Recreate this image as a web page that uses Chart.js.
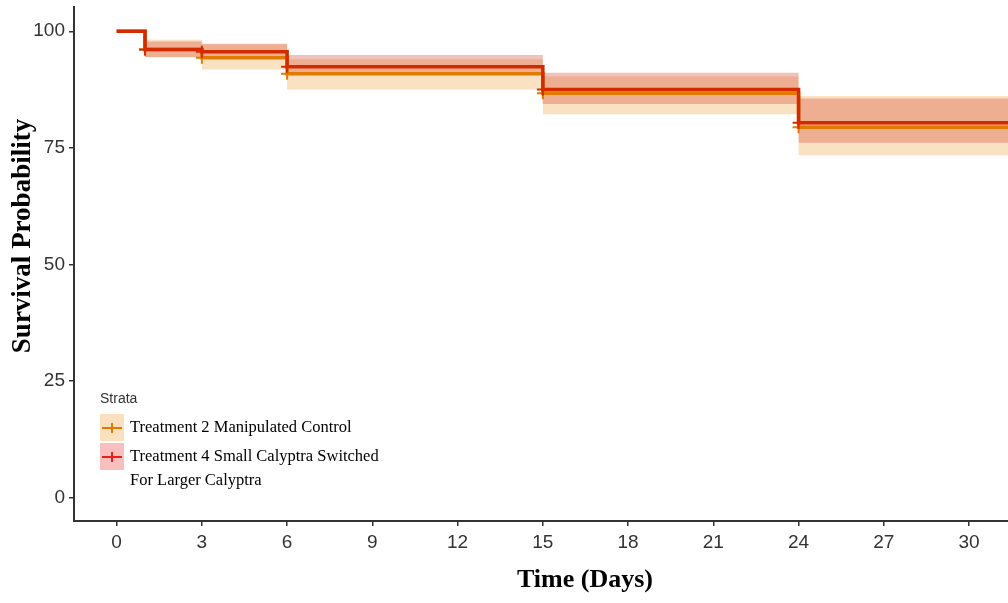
<!DOCTYPE html>
<html>
<head>
<meta charset="utf-8">
<script src="https://cdn.jsdelivr.net/npm/chart.js@4/dist/chart.umd.min.js"></script>
<style>
  html, body { margin: 0; padding: 0; background: #fff; }
  #wrap { width: 1008px; height: 603px; position: relative; }
</style>
</head>
<body>
<div id="wrap"><canvas id="kmChart"></canvas></div>
<script>
// time points (days) where the curves step; last one just carries the curve to the edge
const days = [0, 1, 3, 6, 15, 24, 32];
const censorDays = [1, 3, 6, 15, 24];
const xTicks = [0, 3, 6, 9, 12, 15, 18, 21, 24, 27, 30];
const yTicks = [0, 25, 50, 75, 100];

// Treatment 2 Manipulated Control
const controlSurv  = [100, 96.1, 94.3, 90.9, 86.7, 79.4, 79.4];
const controlUpper = [100, 98.2, 97.4, 94.0, 90.3, 86.1, 86.1];
const controlLower = [100, 94.4, 91.8, 87.5, 82.2, 73.4, 73.4];

// Treatment 4 Small Calyptra Switched For Larger Calyptra
const switchedSurv  = [100, 96.1, 95.6, 92.4, 87.5, 80.4, 80.4];
const switchedUpper = [100, 97.8, 97.2, 94.9, 91.1, 85.6, 85.6];
const switchedLower = [100, 94.5, 94.2, 90.6, 84.4, 76.1, 76.1];

const legendTitle = "Strata";
const legendLabels = [
    ["Treatment 2 Manipulated Control"],
    ["Treatment 4 Small Calyptra Switched", "For Larger Calyptra"]
];

const ORANGE = "#e17a00";
const RED = "#d42a00";

const toPoints = (vals) => days.map((d, i) => ({ x: d, y: vals[i] }));
const censorRadius = days.map(d => censorDays.includes(d) ? 6 : 0);

// titles + legend drawn on top of the chart
const decorPlugin = {
    id: "decor",
    afterDraw(chart) {
        const ctx = chart.ctx;
        ctx.save();
        ctx.fillStyle = "#000";

        // y title
        ctx.save();
        ctx.translate(23, 236);
        ctx.rotate(-Math.PI / 2);
        ctx.font = "bold 27px 'Liberation Serif', 'Times New Roman', serif";
        ctx.textAlign = "center";
        ctx.textBaseline = "middle";
        ctx.fillText("Survival Probability", 0, 0);
        ctx.restore();

        // x title
        ctx.font = "bold 26px 'Liberation Serif', 'Times New Roman', serif";
        ctx.textAlign = "center";
        ctx.textBaseline = "middle";
        ctx.fillText("Time (Days)", 585, 580);

        // legend
        ctx.textAlign = "left";
        ctx.fillStyle = "#333";
        ctx.font = "14px 'Liberation Sans', Arial, sans-serif";
        ctx.fillText(legendTitle, 100, 399);

        const boxes = [
            { y: 414, fill: "rgba(250,214,170,0.75)", line: ORANGE },
            { y: 443, fill: "rgba(247,170,170,0.75)", line: "#e8201a" }
        ];
        boxes.forEach((b, i) => {
            ctx.fillStyle = b.fill;
            ctx.fillRect(100, b.y, 24, 27);
            ctx.strokeStyle = b.line;
            ctx.lineWidth = 2;
            ctx.beginPath();
            ctx.moveTo(102, b.y + 14); ctx.lineTo(122, b.y + 14);
            ctx.moveTo(112, b.y + 9); ctx.lineTo(112, b.y + 19);
            ctx.stroke();

            ctx.fillStyle = "#000";
            ctx.font = "16.5px 'Liberation Serif', 'Times New Roman', serif";
            legendLabels[i].forEach((txt, j) => {
                ctx.fillText(txt, 130, b.y + 14 + j * 24);
            });
        });
        ctx.restore();
    }
};

const ctx = document.getElementById("kmChart").getContext("2d");

new Chart(ctx, {
    type: "line",
    data: {
        datasets: [
            {
                label: "control upper",
                data: toPoints(controlUpper),
                stepped: "before",
                borderWidth: 0,
                pointRadius: 0,
                backgroundColor: "rgba(240,170,80,0.35)",
                fill: "+1",
                order: 6
            },
            {
                label: "control lower",
                data: toPoints(controlLower),
                stepped: "before",
                borderWidth: 0,
                pointRadius: 0,
                fill: false,
                order: 6
            },
            {
                label: "switched upper",
                data: toPoints(switchedUpper),
                stepped: "before",
                borderWidth: 0,
                pointRadius: 0,
                backgroundColor: "rgba(210,70,50,0.33)",
                fill: "+1",
                order: 5
            },
            {
                label: "switched lower",
                data: toPoints(switchedLower),
                stepped: "before",
                borderWidth: 0,
                pointRadius: 0,
                fill: false,
                order: 5
            },
            {
                label: "Treatment 2 Manipulated Control",
                data: toPoints(controlSurv),
                stepped: "before",
                borderColor: ORANGE,
                borderWidth: 3.5,
                pointStyle: "cross",
                pointRadius: censorRadius,
                pointBorderColor: ORANGE,
                pointBorderWidth: 2,
                fill: false,
                order: 2
            },
            {
                label: "Treatment 4 Small Calyptra Switched For Larger Calyptra",
                data: toPoints(switchedSurv),
                stepped: "before",
                borderColor: RED,
                borderWidth: 3.5,
                pointStyle: "cross",
                pointRadius: censorRadius,
                pointBorderColor: RED,
                pointBorderWidth: 2,
                fill: false,
                order: 1
            }
        ]
    },
    options: {
        responsive: true,
        maintainAspectRatio: false,
        animation: false,
        layout: { padding: { left: 0, right: 0, top: 7, bottom: 0 } },
        plugins: {
            legend: { display: false },
            tooltip: { enabled: false }
        },
        scales: {
            x: {
                type: "linear",
                min: -1.5,
                max: 31.37,
                afterBuildTicks: (scale) => { scale.ticks = xTicks.map(v => ({ value: v })); },
                afterFit: (scale) => {
                    scale.height = 82;
                    scale.paddingLeft = 0;
                    scale.paddingRight = 0;
                },
                grid: { drawOnChartArea: false, drawTicks: true, tickLength: 5, color: "#333", lineWidth: 1.5 },
                border: { display: true, color: "#333", width: 2 },
                ticks: { color: "#333", padding: 5, maxRotation: 0, font: { family: "'Liberation Sans', Arial, sans-serif", size: 19 } }
            },
            y: {
                type: "linear",
                min: -5,
                max: 105.2,
                afterBuildTicks: (scale) => { scale.ticks = yTicks.map(v => ({ value: v })); },
                afterFit: (scale) => {
                    scale.width = 74;
                    scale.paddingTop = 0;
                    scale.paddingBottom = 0;
                },
                grid: { drawOnChartArea: false, drawTicks: true, tickLength: 5, color: "#333", lineWidth: 1.5 },
                border: { display: true, color: "#333", width: 2 },
                ticks: { color: "#333", padding: 4, font: { family: "'Liberation Sans', Arial, sans-serif", size: 19 } }
            }
        }
    },
    plugins: [decorPlugin]
});
</script>
</body>
</html>
